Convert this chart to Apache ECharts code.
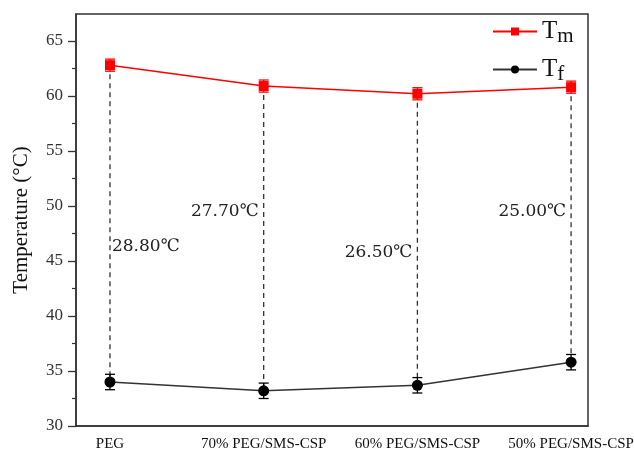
<!DOCTYPE html>
<html>
<head>
<meta charset="utf-8">
<script src="https://cdn.jsdelivr.net/npm/echarts@6/dist/echarts.min.js"></script>
<style>html,body{margin:0;padding:0;background:#fff;}#c{width:634px;height:454px;}</style>
</head>
<body>
<div id="c"></div>
<script>
const categories = ['PEG', '70% PEG/SMS-CSP', '60% PEG/SMS-CSP', '50% PEG/SMS-CSP'];
const tmValues = [62.8, 60.9, 60.2, 60.8];
const tmErrors = [0.55, 0.55, 0.55, 0.55];
const tfValues = [34.0, 33.2, 33.7, 35.8];
const tfErrors = [0.7, 0.7, 0.7, 0.7];
const diffLabels = ['28.80℃', '27.70℃', '26.50℃', '25.00℃'];
const yTicks = [30, 35, 40, 45, 50, 55, 60, 65];

// layout for the difference annotations (value-space y, side of the dashed line)
const annotLayout = [
  {y: 46.3, side: 'right'},
  {y: 49.5, side: 'left'},
  {y: 45.8, side: 'left'},
  {y: 49.5, side: 'left'}
];

const serif = '"Liberation Serif", "Times New Roman", serif';
const chart = echarts.init(document.getElementById('c'));

const tmData = tmValues.map((v, i) => [i, v]);
const tfData = tfValues.map((v, i) => [i, v]);
const errData = tmValues.map((v, i) => [i, v, tmErrors[i], 0])
  .concat(tfValues.map((v, i) => [i, v, tfErrors[i], 1]));
const connData = tmValues.map((v, i) => [i, v, tfValues[i]]);
const annotData = diffLabels.map((t, i) => [i, annotLayout[i].y, t]);

function renderErr(params, api) {
  const x = api.value(0), y = api.value(1), e = api.value(2), g = api.value(3);
  const top = api.coord([x, y + e]);
  const bot = api.coord([x, y - e]);
  const color = g === 0 ? '#ff0000' : '#000000';
  const style = {stroke: color, lineWidth: 1.3};
  return {type: 'group', children: [
    {type: 'line', shape: {x1: top[0], y1: top[1], x2: bot[0], y2: bot[1]}, style},
    {type: 'line', shape: {x1: top[0]-5, y1: top[1], x2: top[0]+5, y2: top[1]}, style},
    {type: 'line', shape: {x1: bot[0]-5, y1: bot[1], x2: bot[0]+5, y2: bot[1]}, style}
  ]};
}
function renderConn(params, api) {
  const a = api.coord([api.value(0), api.value(1)]);
  const b = api.coord([api.value(0), api.value(2)]);
  return {type: 'line', shape: {x1: a[0], y1: a[1], x2: b[0], y2: b[1]},
    style: {stroke: '#333', lineWidth: 1.3, lineDash: [5, 4]}};
}
function renderAnnot(params, api) {
  const i = params.dataIndex;
  const p = api.coord([api.value(0), api.value(1)]);
  const right = annotLayout[i].side === 'right';
  return {type: 'text', x: p[0] + (right ? 2 : -5), y: p[1],
    style: {text: diffLabels[i], fill: '#222', font: '17px "DejaVu Serif", serif',
      align: right ? 'left' : 'right', verticalAlign: 'middle'}};
}

chart.setOption({
  animation: false,
  backgroundColor: '#fff',
  grid: {left: 76, top: 14, right: 46, bottom: 28, show: true, borderColor: '#333', borderWidth: 1.5,
    backgroundColor: 'transparent', outerBoundsMode: 'none', containLabel: false},
  legend: {
    orient: 'vertical', left: 487, top: 14, itemGap: 10,
    itemWidth: 44, itemHeight: 10,
    data: ['Tm', 'Tf'],
    formatter: n => '{a|T}{b|' + n.slice(1) + '}',
    textStyle: {
      rich: {
        a: {fontFamily: serif, fontSize: 25, color: '#111'},
        b: {fontFamily: serif, fontSize: 21, color: '#111', padding: [10, 0, 0, 0]}
      }
    }
  },
  xAxis: {
    type: 'value', min: -0.221, max: 3.11,
    splitLine: {show: false},
    axisLine: {onZero: false, lineStyle: {color: '#333', width: 1.5}},
    axisTick: {show: false},
    axisLabel: {
      customValues: [0, 1, 2, 3],
      formatter: v => categories[Math.round(v)] || '',
      fontFamily: serif, fontSize: 15, color: '#111', margin: 11
    }
  },
  yAxis: {
    type: 'value', min: 30, max: 67.45, interval: 5,
    name: 'Temperature (°C)', nameLocation: 'middle', nameGap: 44,
    nameTextStyle: {fontFamily: serif, fontSize: 21, color: '#111'},
    splitLine: {show: false},
    axisLine: {show: true, onZero: false, lineStyle: {color: '#333', width: 1.5}},
    axisTick: {show: true, length: 8, lineStyle: {color: '#333', width: 1.3}, customValues: yTicks},
    minorTick: {show: true, splitNumber: 2, length: 4, lineStyle: {color: '#333', width: 1.2}},
    axisLabel: {customValues: yTicks, fontFamily: serif, fontSize: 17, color: '#333', margin: 13}
  },
  series: [
    {type: 'custom', name: 'conn', renderItem: renderConn, data: connData, z: 1, silent: true},
    {type: 'custom', name: 'err', renderItem: renderErr, data: errData, z: 3, silent: true},
    {type: 'custom', name: 'annot', renderItem: renderAnnot, data: annotData, z: 4, silent: true},
    {type: 'line', name: 'Tm', data: tmData, symbol: 'rect', symbolSize: 10, z: 5,
      lineStyle: {color: '#ff0000', width: 1.5}, itemStyle: {color: '#ff0000'}},
    {type: 'line', name: 'Tf', data: tfData, symbol: 'circle', symbolSize: 11, z: 5,
      lineStyle: {color: '#333', width: 1.5}, itemStyle: {color: '#000'}}
  ]
});
</script>
</body>
</html>
